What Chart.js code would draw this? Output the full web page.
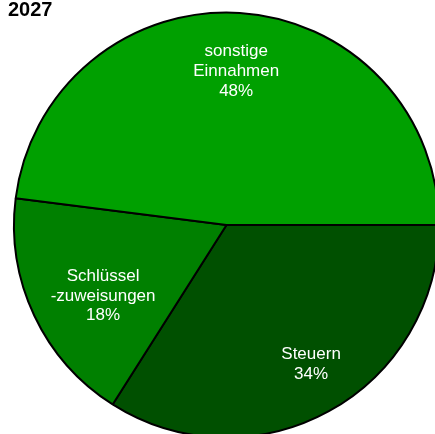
<!DOCTYPE html>
<html>
<head>
<meta charset="utf-8">
<script src="https://cdn.jsdelivr.net/npm/chart.js@4"></script>
<style>
html,body{margin:0;padding:0;background:#fff;overflow:hidden;}
#wrap{position:relative;width:435px;height:434px;overflow:hidden;}
#title{position:absolute;left:8px;top:-1px;font:bold 20px/20px "Liberation Sans",Arial,sans-serif;color:#000;z-index:2;}
canvas{position:absolute;left:0;top:0;}
</style>
</head>
<body>
<div id="wrap">
<div id="title">2027</div>
<canvas id="c" width="453" height="450" style="width:453px;height:450px"></canvas>
</div>
<script>
const categories = [["Steuern"], ["Schlüssel", "-zuweisungen"], ["sonstige", "Einnahmen"]];
const shares = [34, 18, 48];
const colors = ["#005000", "#008000", "#00a000"];

const labelPlugin = {
  id: 'sliceLabels',
  afterDatasetsDraw(chart, args, opts) {
    const ctx = chart.ctx;
    const meta = chart.getDatasetMeta(0);
    ctx.save();
    ctx.fillStyle = '#ffffff';
    ctx.font = '17px "Liberation Sans", Arial, sans-serif';
    ctx.textAlign = 'center';
    ctx.textBaseline = 'middle';
    meta.data.forEach((arc, i) => {
      const p = opts.place[i];
      const mid = (arc.startAngle + arc.endAngle) / 2 + p.da * Math.PI / 180;
      const r = arc.outerRadius * p.f;
      const x = arc.x + Math.cos(mid) * r;
      const y = arc.y + Math.sin(mid) * r;
      const lines = categories[i].concat([shares[i] + '%']);
      const lh = 19.8;
      const y0 = y - (lines.length - 1) * lh / 2;
      lines.forEach((t, k) => ctx.fillText(t, x, y0 + k * lh));
    });
    ctx.restore();
  }
};

new Chart(document.getElementById('c'), {
  type: 'pie',
  data: {
    labels: categories.map(c => c.join(' ')),
    datasets: [{
      data: shares,
      backgroundColor: colors,
      borderColor: '#000000',
      borderWidth: 2
    }]
  },
  options: {
    responsive: false,
    animation: false,
    rotation: 90,
    radius: 212.5,
    layout: { padding: 0 },
    plugins: {
      legend: { display: false },
      tooltip: { enabled: false },
      title: { display: false },
      sliceLabels: { place: [ { f: 0.766, da: -2.5 }, { f: 0.67, da: -4.7 }, { f: 0.725, da: 0 } ] }
    }
  },
  plugins: [labelPlugin]
});
</script>
</body>
</html>
